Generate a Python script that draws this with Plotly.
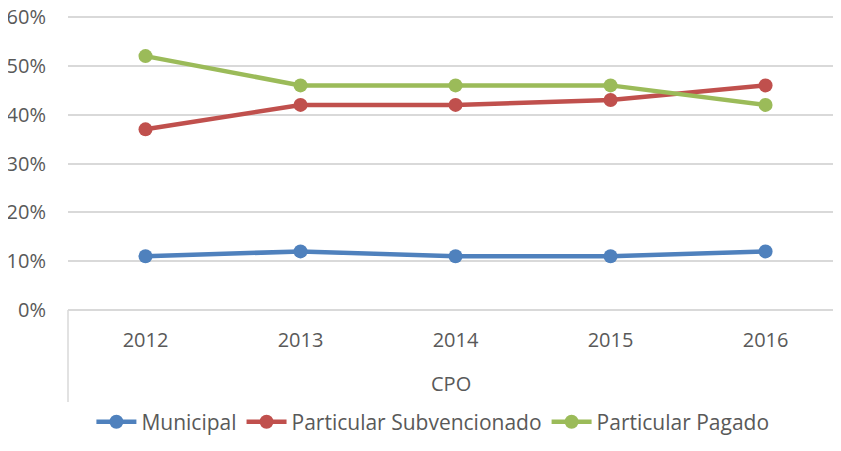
import plotly.graph_objects as go

years = ["2012", "2013", "2014", "2015", "2016"]
group = "CPO"
municipal = [0.11, 0.12, 0.11, 0.11, 0.12]
subvencionado = [0.37, 0.42, 0.42, 0.43, 0.46]
pagado = [0.52, 0.46, 0.46, 0.46, 0.42]

series = [
    ("Municipal", municipal, "#4F81BD"),
    ("Particular Subvencionado", subvencionado, "#C0504D"),
    ("Particular Pagado", pagado, "#9BBB59"),
]

fig = go.Figure()
for name, vals, color in series:
    fig.add_trace(go.Scatter(
        x=years, y=vals, name=name, mode="lines+markers",
        line=dict(color=color, width=4.5),
        marker=dict(color=color, size=14)))

# group label and left divider of the category axis
fig.add_annotation(text=group, xref="paper", yref="paper", x=0.5, y=-0.245,
                   yanchor="middle", showarrow=False, font=dict(size=20, color="#595959"))
fig.add_shape(type="line", xref="paper", yref="paper", x0=0, x1=0, y0=0, y1=-0.305,
              line=dict(color="#D9D9D9", width=1.5))

fig.update_layout(
    width=825, height=435,
    margin=dict(l=60, r=0, t=0, b=133),
    plot_bgcolor="white", paper_bgcolor="white",
    font=dict(family="Open Sans", size=20, color="#595959"),
    showlegend=True,
    legend=dict(orientation="h", x=0.477, xanchor="center", y=-0.371, yanchor="middle",
                font=dict(size=21), itemwidth=40, tracegroupgap=0),
    xaxis=dict(type="category", range=[-0.5, 4.435], showgrid=False, showline=False,
               ticks="", ticklabelstandoff=16, automargin=False,
               tickfont=dict(size=20, color="#595959")),
    yaxis=dict(range=[0, 0.6185], dtick=0.1, tickformat=".0%", showgrid=True,
               gridcolor="#D9D9D9", gridwidth=1.5, zeroline=True, zerolinecolor="#D9D9D9",
               zerolinewidth=1.5, showline=False, ticks="", ticklabelstandoff=21,
               ticklabeloverflow="allow", automargin=False,
               tickfont=dict(size=20, color="#595959")),
)

fig.write_html("out.html")
